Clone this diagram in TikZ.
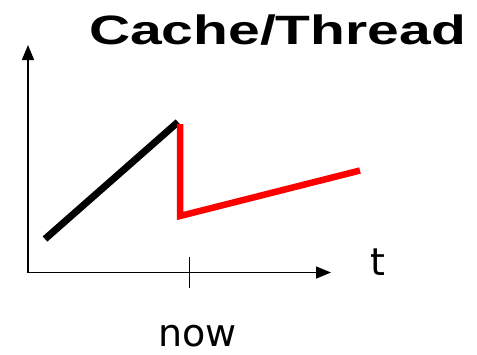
\documentclass[tikz,border=0pt]{standalone}
\usepackage{fontspec}
\setmainfont{DejaVu Sans}
\newfontfamily\titlefont{Liberation Sans}
\usetikzlibrary{arrows.meta}
\begin{document}
\begin{tikzpicture}[x=1pt,y=-1pt,
  axis/.style={line width=1.5pt,-{Triangle[length=15pt,width=12pt]}},
  thick black/.style={line width=7pt,black},
  thick red/.style={line width=6.5pt,red},
  lbl/.style={inner sep=0pt,font=\fontsize{38}{40}\selectfont}]
\useasboundingbox (0,0) rectangle (477,354);
\coordinate (O) at (28,272.5);
\coordinate (ytop) at (28,45);
\coordinate (xend) at (331,272.5);
\coordinate (tickT) at (189.5,257);
\coordinate (tickB) at (189.5,288);
\coordinate (b0) at (45,239);
\coordinate (peak) at (178,122);
\coordinate (rtop) at (180,124);
\coordinate (rbot) at (180,216);
\coordinate (rend) at (360,170.5);
\draw[axis] (O) -- (ytop);
\draw[axis] (O) -- (xend);
\draw[line width=1.5pt] (tickT) -- (tickB);
\draw[thick black] (b0) -- (peak);
\draw[thick red] (rtop) -- (rbot) -- (rend);
\node[lbl,anchor=base west] (t) at (370,275) {t};
\node[lbl,anchor=base] (now) at (197.5,346) {now};
\node[inner sep=0pt,anchor=base,xscale=1.39,font=\titlefont\bfseries\fontsize{41}{43}\selectfont] (title) at (277.5,44) {Cache/Thread};
\end{tikzpicture}
\end{document}
